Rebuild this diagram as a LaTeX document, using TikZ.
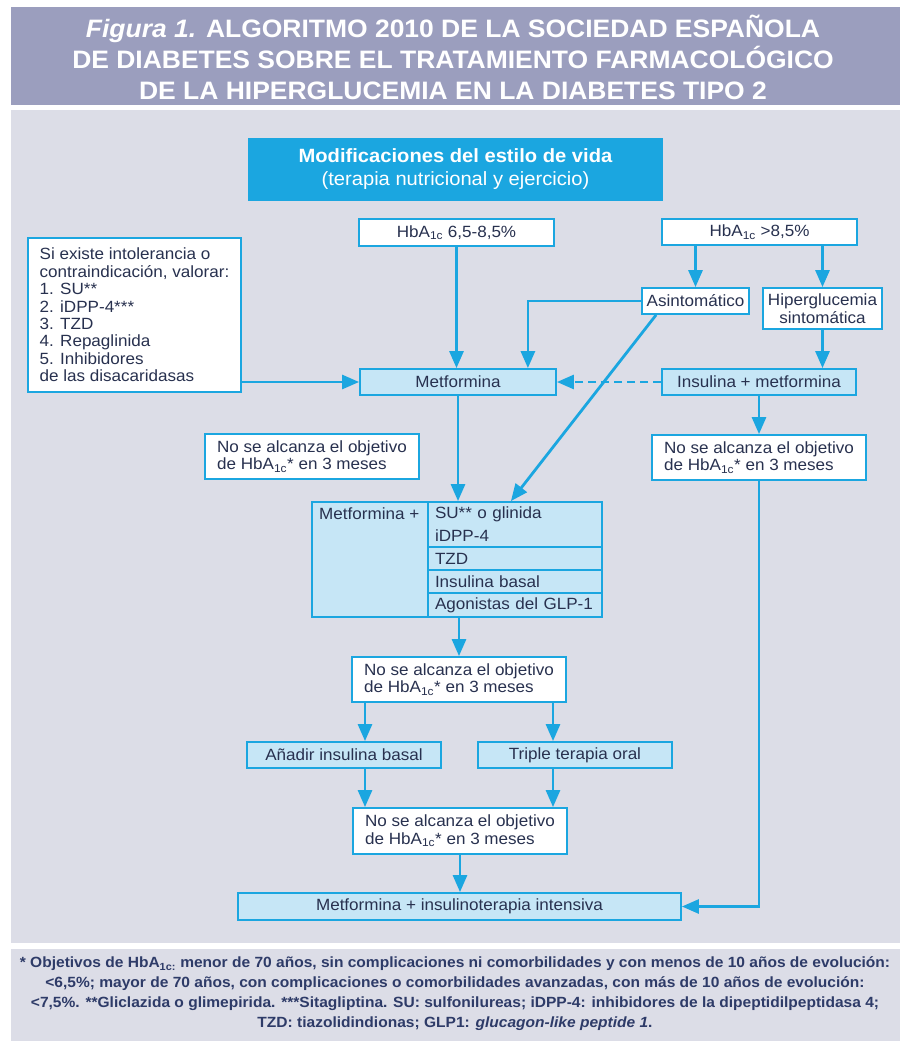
\documentclass[tikz,border=0pt]{standalone}
\usepackage{fontspec}
\setmainfont{Liberation Sans}[FakeStretch=1.05]
\usepackage{tikz}
\usetikzlibrary{arrows.meta}
\definecolor{cian}{HTML}{1BA6E0}
\definecolor{celeste}{HTML}{C6E6F6}
\definecolor{fondo}{HTML}{DCDDE7}
\definecolor{banda}{HTML}{9B9EBE}
\definecolor{texto}{HTML}{28314F}
\definecolor{nota}{HTML}{2E3B68}

\begin{document}
\begin{tikzpicture}[x=1pt,y=-1pt,
    caja/.style={draw=cian, line width=1.8pt, fill=white, text=texto, inner sep=0pt,
        font={\fontsize{16.25}{17.4}\selectfont}},
    clara/.style={caja, fill=celeste},
    celda/.style={clara, inner xsep=7pt, text width=160pt, align=left},
    flecha/.style={cian, line width=2.8pt, -{Triangle[length=17pt,width=14pt]}}]

    \useasboundingbox (0,0) rectangle (906,1041);
    \fill[banda] (11,7) rectangle (900,105);
    \fill[fondo] (11,110) rectangle (900,943);
    \fill[fondo] (11,949) rectangle (900,1041);

    \node[text=white, align=center, font={\fontsize{25.2}{31}\selectfont\bfseries}] (titulo) at (453,57)
        {\textit{Figura 1.} ALGORITMO 2010 DE LA SOCIEDAD ESPAÑOLA\\DE DIABETES SOBRE EL TRATAMIENTO FARMACOLÓGICO\\DE LA HIPERGLUCEMIA EN LA DIABETES TIPO 2};

    \node[fill=cian, minimum width=415, minimum height=63, text=white, align=center,
        font={\fontsize{19.2}{23}\selectfont}] (vida) at (455.5,169.5)
        {\textbf{Modificaciones del estilo de vida}\\(terapia nutricional y ejercicio)};

    \node[caja, minimum width=195, minimum height=27] (hbaA) at (456.5,232.5) {HbA\textsubscript{1c} 6,5-8,5\%};
    \node[caja, minimum width=195, minimum height=26] (hbaB) at (759.5,232) {HbA\textsubscript{1c} >8,5\%};
    \node[caja, minimum width=213, minimum height=154, align=left] (intol) at (134.5,315)
        {Si existe intolerancia o\\contraindicación, valorar:\\1. SU**\\2. iDPP-4***\\3. TZD\\4. Repaglinida\\5. Inhibidores\\de las disacaridasas};
    \node[caja, minimum width=107, minimum height=26] (asint) at (695.5,301) {Asintomático};
    \node[caja, minimum width=119, minimum height=41, align=center] (hiper) at (822.5,308.5) {Hiperglucemia\\sintomática};
    \node[clara, minimum width=196, minimum height=26] (metf) at (458,382) {Metformina};
    \node[clara, minimum width=194, minimum height=26] (insmet) at (759,382) {Insulina + metformina};
    \node[caja, minimum width=214, minimum height=45, align=left] (noL) at (312,456.5)
        {No se alcanza el objetivo\\de HbA\textsubscript{1c}* en 3 meses};
    \node[caja, minimum width=214, minimum height=45, align=left] (noR) at (759,457.5)
        {No se alcanza el objetivo\\de HbA\textsubscript{1c}* en 3 meses};

    % tabla de combinaciones
    \node[clara, minimum width=116, minimum height=115] (izq) at (370,559.5) {};
    \node[text=texto, anchor=west, inner sep=0pt, font={\fontsize{16.25}{17.4}\selectfont}] (metmas) at (319,514) {Metformina +};
    \node[celda, minimum height=45] (su) at (515,524.5) {SU** o glinida\\[5.6pt]iDPP-4};
    \node[celda, minimum height=23] (tzd) at (515,558.5) {TZD};
    \node[celda, minimum height=23] (insb) at (515,581.5) {Insulina basal};
    \node[celda, minimum height=24] (glp) at (515,605) {Agonistas del GLP-1};

    \node[caja, minimum width=214, minimum height=45, align=left] (noM) at (459,679.5)
        {No se alcanza el objetivo\\de HbA\textsubscript{1c}* en 3 meses};
    \node[clara, minimum width=194, minimum height=26] (anadir) at (344,755) {Añadir insulina basal};
    \node[clara, minimum width=194, minimum height=26] (triple) at (575,755) {Triple terapia oral};
    \node[caja, minimum width=214, minimum height=46, align=left] (noB) at (460,831)
        {No se alcanza el objetivo\\de HbA\textsubscript{1c}* en 3 meses};
    \node[clara, minimum width=443, minimum height=27] (final) at (459.5,906.5) {Metformina + insulinoterapia intensiva};

    \node[text=nota, align=center, font={\fontsize{14.8}{20}\selectfont\bfseries}] (nota) at (455,994)
        {* Objetivos de HbA\textsubscript{1c:} menor de 70 años, sin complicaciones ni comorbilidades y con menos de 10 años de evolución:\\<6,5\%; mayor de 70 años, con complicaciones o comorbilidades avanzadas, con más de 10 años de evolución:\\<7,5\%. **Gliclazida o glimepirida. ***Sitagliptina. SU: sulfonilureas; iDPP-4: inhibidores de la dipeptidilpeptidasa 4;\\TZD: tiazolidindionas; GLP1: \textit{glucagon-like peptide 1}.};

    \coordinate (entA) at ([xshift=-29pt]metf.north east);
    \coordinate (diagA) at ([xshift=15pt]asint.south west);
    \coordinate (diagB) at ([xshift=-92pt]su.north east);
    \coordinate (pA) at ([xshift=-94pt]noM.south);
    \coordinate (pB) at ([xshift=94pt]noM.south);

    \draw[flecha] (hbaA.south) -- (hbaA.south |- metf.north);
    \draw[flecha] (asint.north |- hbaB.south) -- (asint.north);
    \draw[flecha] (hiper.north |- hbaB.south) -- (hiper.north);
    \draw[flecha] (asint.west) -| (entA);
    \draw[flecha] (diagA) -- (diagB);
    \draw[flecha] (hiper.south) -- (hiper.south |- insmet.north);
    \draw[flecha, dash pattern=on 8pt off 5pt] (insmet.west) -- (metf.east);
    \draw[flecha] (intol.east |- metf.west) -- (metf.west);
    \draw[flecha] (insmet) -- (noR);
    \draw[flecha] (noR.south) |- (final.east);
    \draw[flecha] (metf.south) -- (metf.south |- su.north);
    \draw[flecha] (noM.north |- glp.south) -- (noM.north);
    \draw[flecha] (pA) -- (pA |- anadir.north);
    \draw[flecha] (pB) -- (pB |- triple.north);
    \draw[flecha] (pA |- anadir.south) -- (pA |- noB.north);
    \draw[flecha] (pB |- triple.south) -- (pB |- noB.north);
    \draw[flecha] (noB.south) -- (noB.south |- final.north);
\end{tikzpicture}
\end{document}
